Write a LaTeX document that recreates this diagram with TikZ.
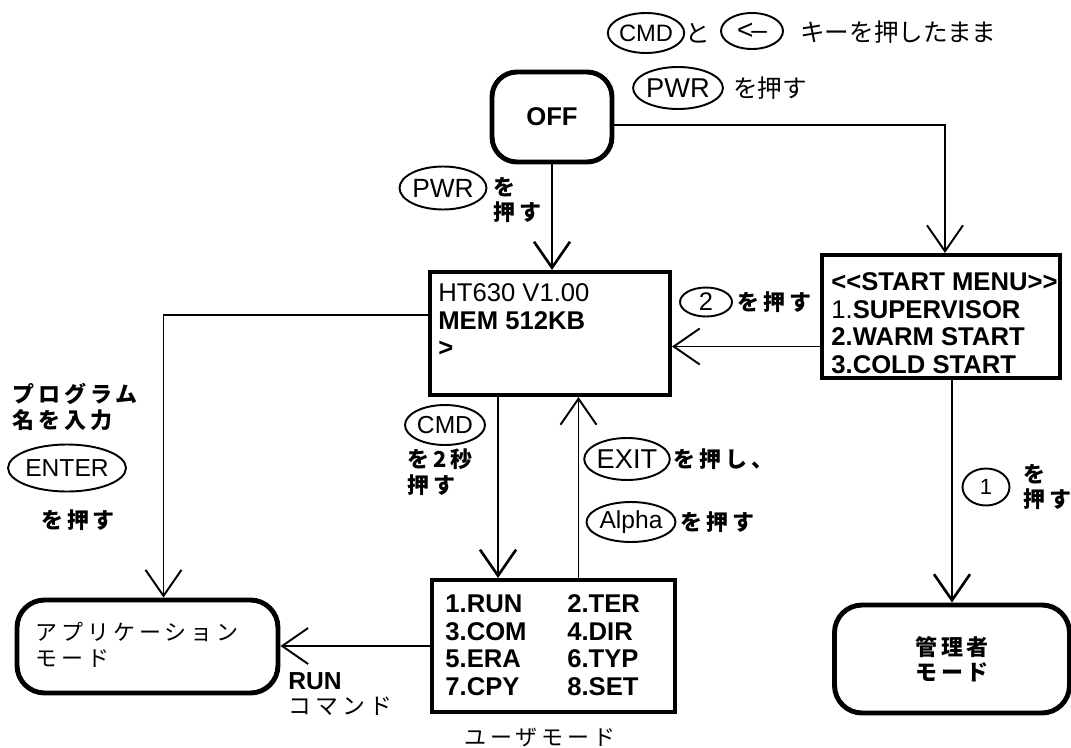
\documentclass[tikz,border=0pt]{standalone}
\usepackage{fontspec}
\setmainfont{Liberation Sans}
\newfontfamily\jp{Noto Sans CJK JP}
\newfontfamily\jpsp[LetterSpace=18]{Noto Sans CJK JP}
\usetikzlibrary{positioning}
\usetikzlibrary{calc}
\usetikzlibrary{arrows.meta}
\usetikzlibrary{shapes.geometric}

\begin{document}
\begin{tikzpicture}[
    x=0.02cm, y=-0.02cm,
    flow arrow/.style={line width=1.5pt, -{Straight Barb[length=0.52cm, width=0.72cm]}},
    thin arrow/.style={flow arrow, line width=1.1pt},
    key/.style={draw, ellipse, line width=1.1pt, inner sep=0pt, font=\fontsize{13.5}{14}\selectfont},
    screen/.style={draw, line width=2.3pt},
    screen text/.style={align=left, inner sep=0pt, font=\fontsize{14.6}{15.8}\selectfont\bfseries},
    mode box/.style={draw, rounded corners=0.55cm, line width=2.8pt},
    jlabel/.style={inner sep=0pt, align=left, font=\jp\fontsize{14}{16}\selectfont},
    jspaced/.style={inner sep=0pt, align=left, font=\jpsp\fontsize{12.5}{14.5}\selectfont},
    jbold/.style={jspaced, font=\jpsp\bfseries\fontsize{12.5}{14.5}\selectfont}
  ]
\useasboundingbox (0,0) rectangle (1071,747);

\node[mode box, rounded corners=0.5cm, minimum width=2.4cm, minimum height=1.8cm, font=\fontsize{14.6}{16}\selectfont\bfseries] (off) at (552,117) {OFF};
\node[screen, minimum width=4.8cm, minimum height=2.46cm] (main) at (550,333.5) {};
\node[screen, minimum width=4.76cm, minimum height=2.46cm] (start) at (941,316.5) {};
\node[screen, minimum width=4.86cm, minimum height=2.64cm] (user) at (553.5,646) {};
\node[mode box, minimum width=5.22cm, minimum height=1.86cm] (app) at (147.5,646.5) {};
\node[mode box, minimum width=4.7cm, minimum height=2.16cm, jbold, align=center] (admin) at (952,659) {管理者\\モード};

\node[screen text, anchor=north west] (maintext) at (438,283) {{\mdseries HT630 V1.00}\\MEM 512KB\\>};
\node[screen text, anchor=north west] (starttext) at (831,272) {<\kern0pt<START MENU>\kern0pt>\\{\mdseries 1.}SUPERVISOR\\2.WARM START\\3.COLD START};
\node[screen text, anchor=north west] (usertext) at (445,594) {\makebox[2.44cm][l]{1.RUN}2.TER\\\makebox[2.44cm][l]{3.COM}4.DIR\\\makebox[2.44cm][l]{5.ERA}6.TYP\\\makebox[2.44cm][l]{7.CPY}8.SET};
\node[jspaced, anchor=west] (apptext) at (35,645) {アプリケーション\\モード};
\node[jspaced] (userlbl) at (540,737) {ユーザモード};

\node[key, minimum width=1.44cm, minimum height=0.8cm] (kcmd) at (646,33) {CMD};
\node[jlabel] (to) at (698,33) {と};
\node[key, minimum width=1.24cm, minimum height=0.72cm, font=\fontsize{16}{16}\selectfont] (kback) at (752,31) {<\kern-0.08em--};
\node[jlabel, anchor=west] (holdlbl) at (800,32) {キーを押したまま};
\node[key, minimum width=1.52cm, minimum height=0.84cm, font=\fontsize{15.5}{16}\selectfont] (kpwr) at (678,88) {PWR};
\node[jlabel, anchor=west] (pwrlbl) at (733,88) {を押す};

\node[key, minimum width=1.46cm, minimum height=0.86cm, font=\fontsize{15}{16}\selectfont] (kpwr2) at (443,188) {PWR};
\node[jbold, anchor=west] (pwrlbl2) at (493,200) {を\\押す};
\node[key, minimum width=1.04cm, minimum height=0.58cm, font=\fontsize{14.5}{15}\selectfont] (k2) at (706,302) {2};
\node[jbold, anchor=west] (k2lbl) at (737,302) {を押す};

\node[jbold, anchor=west] (proglbl) at (12,407) {プログラム\\名を入力};
\node[key, minimum width=2.06cm, minimum height=0.94cm, font=\fontsize{14}{15}\selectfont] (kenter) at (67,468) {ENTER};
\node[jbold] (enterlbl) at (78,520) {を押す};

\node[key, minimum width=1.6cm, minimum height=0.8cm, font=\fontsize{14}{15}\selectfont] (kcmd2) at (445,425) {CMD};
\node[jbold, anchor=west] (cmdlbl) at (407,472) {を2秒\\押す};
\node[key, minimum width=1.4cm, minimum height=0.84cm, font=\fontsize{15.5}{16}\selectfont] (kexit) at (627,459) {EXIT};
\node[jbold, anchor=west] (exitlbl) at (673,459) {を押し、};
\node[key, minimum width=1.56cm, minimum height=0.8cm, font=\fontsize{14}{15}\selectfont] (kalpha) at (631,522) {Alpha};
\node[jbold, anchor=west] (alphalbl) at (680,522) {を押す};

\node[key, minimum width=0.94cm, minimum height=0.74cm, font=\fontsize{12.5}{13}\selectfont] (k1) at (986,487) {1};
\node[jbold, anchor=west] (k1lbl) at (1023,487) {を\\押す};
\node[inner sep=0pt, anchor=west, align=left, font=\fontsize{13}{14.5}\selectfont] (runlbl) at (288,694) {{\bfseries\fontsize{14}{14.5}\selectfont RUN}\\{\jpsp コマンド}};

\coordinate (o1) at ([yshift=-0.16cm]off.east); \coordinate (s1) at ([xshift=0.08cm]start.north);
\coordinate (s2) at ([yshift=-0.6cm]start.west);
\coordinate (m1) at ([yshift=0.37cm]main.west); \coordinate (a1) at ([xshift=0.32cm]app.north);
\coordinate (m2) at ([xshift=-1.04cm]main.south); \coordinate (u1) at ([xshift=0.5cm]user.north);
\coordinate (s3) at ([xshift=0.22cm]start.south);

\draw[flow arrow] (off.south) -- (off.south |- main.north);
\draw[thin arrow] (o1) -| (s1);
\draw[thin arrow] (s2) -- (s2 -| main.east);
\draw[thin arrow] (m1) -| (a1);
\draw[flow arrow] (m2) -- (m2 |- user.north);
\draw[thin arrow] (u1) -- (u1 |- main.south);
\draw[thin arrow] (user.west) -- (user.west -| app.east);
\draw[flow arrow] (s3) -- (s3 |- admin.north);
\end{tikzpicture}
\end{document}
